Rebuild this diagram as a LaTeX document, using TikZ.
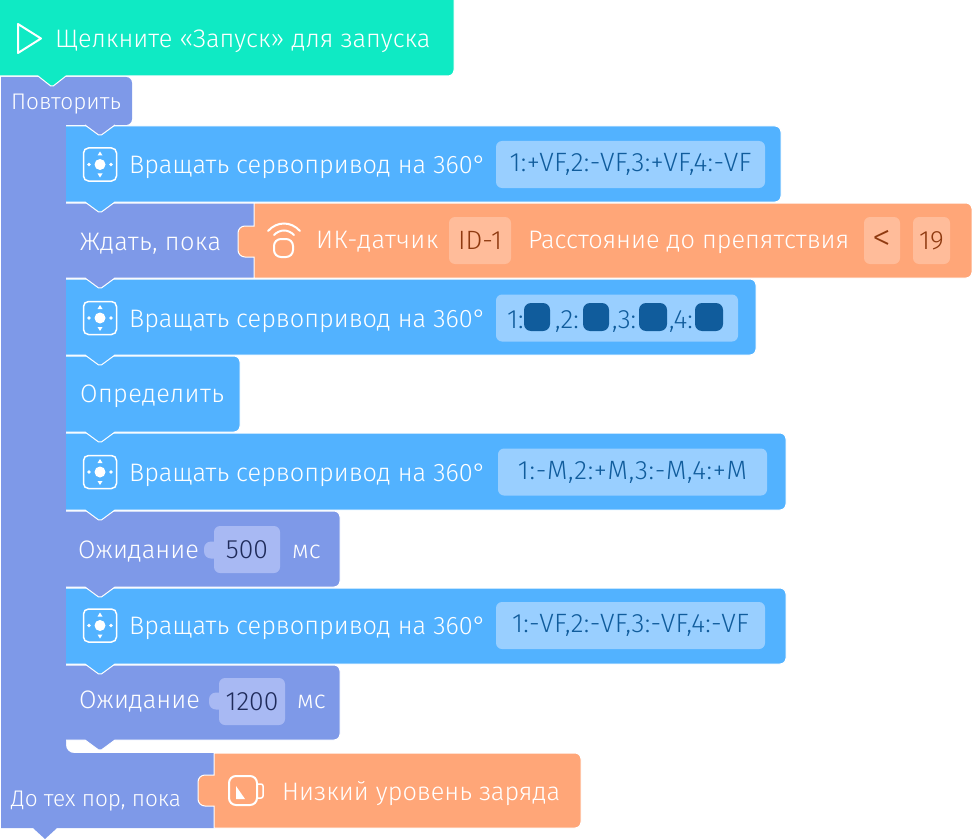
\documentclass[tikz,border=0pt]{standalone}
\usepackage{fontspec}
\setmainfont{Fira Sans}[UprightFont=* Light]
\usetikzlibrary{positioning}
\definecolor{startgreen}{HTML}{0FEAC4}
\definecolor{servoblue}{HTML}{52B2FF}
\definecolor{slotblue}{HTML}{99CFFF}
\definecolor{inkblue}{HTML}{105C9C}
\definecolor{loopviolet}{HTML}{7E99E8}
\definecolor{slotviolet}{HTML}{A8B9F3}
\definecolor{inkviolet}{HTML}{1F2B5A}
\definecolor{sensororange}{HTML}{FFA678}
\definecolor{slotorange}{HTML}{FFBC9A}
\definecolor{inkorange}{HTML}{8F3A10}
\newcommand{\stackblock}[4]{\path[fill=#4, draw=white, line width=1pt] (66,#2) [rounded corners=6pt] -- (#1,#2) -- (#1,#3) [sharp corners] -- (115,#3) [rounded corners=2pt] -- (100,#3+11) [sharp corners] -- (85,#3) -- (66,#3);}
\newcommand{\sensorblock}[5]{\path[fill=sensororange, draw=white, line width=1pt] (#1,#3) [rounded corners=6pt] -- (#2,#3) -- (#2,#4) [sharp corners] -- (#1,#4) -- (#1,#5+15.5) [rounded corners=7pt] -- (#1-16,#5+15.5) -- (#1-16,#5-15.5) [sharp corners] -- (#1,#5-15.5) -- cycle;}
\tikzset{
  servoicon/.pic={
    \draw[white, line width=1.5pt, rounded corners=5pt] (-16.5,-16.5) rectangle (16.5,16.5);
    \fill[white] (0,0) circle (5.5pt) (-11,0) circle (1.8pt) (11,0) circle (1.8pt);
    \fill[white] (-2.5,-9) -- (2.5,-9) -- (0,-13) -- cycle (-2.5,9) -- (2.5,9) -- (0,13) -- cycle;
  }
}
\begin{document}
\begin{tikzpicture}[x=1pt, y=-1pt,
  txt/.style={anchor=base west, inner sep=0pt, text=white, font=\fontsize{25.3}{25}\selectfont},
  widetxt/.style={txt, font=\fontsize{25.3}{25}\selectfont\addfontfeature{LetterSpace=1.5}},
  smalltxt/.style={txt, font=\fontsize{22.6}{23}\selectfont},
  slot/.style={rounded corners=6pt, inner sep=0pt, minimum height=47pt, font=\fontsize{26.5}{26}\selectfont},
  servoslot/.style={slot, fill=slotblue, text=inkblue, font=\fontsize{26.5}{26}\selectfont\addfontfeature{LetterSpace=1.2}},
  sensorslot/.style={slot, fill=slotorange, text=inkorange},
  waitslot/.style={slot, fill=slotviolet, text=inkviolet},
  slotink/.style={txt, text=inkblue, font=\fontsize{26.5}{26}\selectfont},
  dot/.style={rounded corners=7pt, fill=inkblue, inner sep=0pt, minimum height=28pt},
  bump/.style={rounded corners=7pt, fill=slotviolet, inner sep=0pt, minimum width=20pt, minimum height=17pt}]
\useasboundingbox (0,0) rectangle (972,840);
\fill[loopviolet, rounded corners=6pt] (1,77) -- (132,77) -- (132,125) [sharp corners] -- (66,125) -- (66,740) [rounded corners=8pt] -- (66,753) [sharp corners] -- (214,753) -- (214,828) -- (57,828) -- (45,839) -- (33,828) -- (1,828) -- cycle;
\sensorblock{214}{581}{753}{828}{790.5}
\stackblock{340}{665}{740}{loopviolet}
\stackblock{786}{588}{664}{servoblue}
\stackblock{340}{511}{587}{loopviolet}
\stackblock{786}{433}{510}{servoblue}
\stackblock{240}{356}{432}{servoblue}
\stackblock{756}{279}{355}{servoblue}
\stackblock{260}{203}{278}{loopviolet}
\sensorblock{254}{972}{203}{278}{241.5}
\stackblock{781}{126}{202}{servoblue}
\path[fill=loopviolet, draw=white, line width=1pt] (115,125) [rounded corners=2pt] -- (100,136) [sharp corners] -- (85,125);
\path[fill=startgreen, draw=white, line width=1pt] (-8,-8) [rounded corners=6pt] -- (454,-8) -- (454,76) [sharp corners] -- (66,76) [rounded corners=2pt] -- (52,87) [sharp corners] -- (38,76) -- (-8,76) -- cycle;
\draw[white, line width=2pt, line join=round] (18,24) -- (41,38.5) -- (18,53) -- cycle;
\node[txt] (start) at (55,48) {Щелкните «Запуск» для запуска};
\node[smalltxt] (repeat) at (11,110) {Повторить};
\pic at (100,164.5) {servoicon};
\node[txt] (servoa) at (129,173) {Вращать сервопривод на 360°};
\node[servoslot, minimum width=269pt] (servoaval) at (630.5,164.5) {1:+VF,2:-VF,3:+VF,4:-VF};
\node[widetxt] (waituntil) at (80,250) {Ждать, пока};
\draw[white, line width=2pt, line cap=round] (268,231) .. controls (277,221) and (291,221) .. (300,231);
\draw[white, line width=2pt, line cap=round] (274,235) .. controls (280,229) and (288,229) .. (294,235);
\draw[white, line width=2pt, rounded corners=7pt] (274,239) rectangle (293,257);
\node[widetxt] (irsensor) at (316,248) {ИК-датчик};
\node[sensorslot, minimum width=62pt] (irid) at (480,240.5) {ID-1};
\node[txt] (distance) at (528,248) {Расстояние до препятствия};
\node[sensorslot, minimum width=36pt, font=\fontsize{38}{38}\selectfont] (irless) at (882,240.5) {<};
\node[sensorslot, minimum width=37pt] (irvalue) at (931.5,240.5) {19};
\pic at (100,318) {servoicon};
\node[txt] (servob) at (129,327) {Вращать сервопривод на 360°};
\node[servoslot, minimum width=242pt] (servobval) at (617,318) {};
\node[slotink] (bone) at (507,328) {1:};
\node[dot, minimum width=26pt] (bdotone) at (537,317) {};
\node[slotink] (btwo) at (555,328) {,2:};
\node[dot, minimum width=26pt] (bdottwo) at (596,317) {};
\node[slotink] (bthree) at (612,328) {,3:};
\node[dot, minimum width=28pt] (bdotthree) at (653,317) {};
\node[slotink] (bfour) at (669,328) {,4:};
\node[dot, minimum width=28pt] (bdotfour) at (709,317) {};
\node[widetxt] (define) at (80,402) {Определить};
\pic at (100,472) {servoicon};
\node[txt] (servoc) at (129,481) {Вращать сервопривод на 360°};
\node[servoslot, minimum width=269pt, font=\fontsize{26.5}{26}\selectfont\addfontfeature{LetterSpace=2.6}] (servocval) at (632.5,472) {1:-M,2:+M,3:-M,4:+M};
\node[txt] (waita) at (78,558) {Ожидание};
\node[bump] (waitabump) at (214,550) {};
\node[waitslot, minimum width=66pt] (waitaval) at (247,549.5) {500};
\node[txt] (waitaunit) at (292,558) {мс};
\pic at (100,625.5) {servoicon};
\node[txt] (servod) at (129,634) {Вращать сервопривод на 360°};
\node[servoslot, minimum width=269pt] (servodval) at (630.5,625.5) {1:-VF,2:-VF,3:-VF,4:-VF};
\node[txt] (waitb) at (79,708) {Ожидание};
\node[bump] (waitbbump) at (219,701) {};
\node[waitslot, minimum width=66pt] (waitbval) at (252,701.5) {1200};
\node[txt] (waitbunit) at (297,708) {мс};
\node[smalltxt] (until) at (11,806) {До тех пор, пока};
\draw[white, line width=2pt, rounded corners=7pt] (229,776) rectangle (257,805);
\draw[white, line width=1.5pt, rounded corners=2pt] (257,784) -- (263,784) -- (263,798) -- (257,798);
\fill[white] (236,786) -- (236,799) -- (245,799) -- cycle;
\node[txt] (lowpower) at (282,800) {Низкий уровень заряда};
\end{tikzpicture}
\end{document}
